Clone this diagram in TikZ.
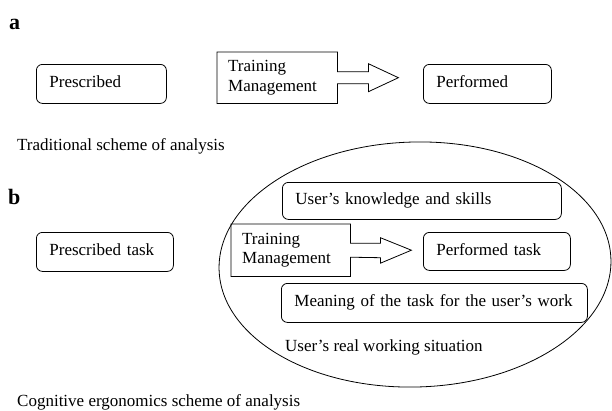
\documentclass[tikz,border=0pt]{standalone}
\usepackage{fontspec}
\setmainfont{Liberation Serif}
\usetikzlibrary{shapes.geometric}
\begin{document}
\begin{tikzpicture}[x=1pt,y=-1pt,
  every node/.style={font=\fontsize{17}{20}\selectfont},
  panel/.style={font=\fontsize{22}{24}\selectfont\bfseries, anchor=base west, inner sep=0pt},
  caption/.style={anchor=base west, inner sep=0pt},
  rbox/.style={draw, line width=0.8pt, rounded corners=6pt, anchor=north west,
    inner xsep=13pt, inner ysep=0pt, align=left, text height=12pt, text depth=4pt},
  tmbox/.style={anchor=north west, inner xsep=11pt, inner ysep=0pt, align=left},
  outline/.style={draw, line width=0.8pt, line join=miter}]
\useasboundingbox (0,0) rectangle (612,410);

% panel a: traditional scheme
\node[panel] (la) at (9,29) {a};
\node[rbox, text width=104pt, minimum height=39pt] (pa) at (36,64) {Prescribed};
\node[tmbox, text width=98pt, minimum height=51pt] (tma) at (217,52) {Training\\Management};
\node[rbox, text width=102pt, minimum height=39pt] (fa) at (423,64) {Performed};
\draw[outline] ([yshift=6pt]tma.east) -- ++(31,0) -- ++(0,-8)
  -- ([xshift=61pt]tma.east) -- ++(-30,14) -- ++(0,-8)
  -- ([yshift=-6pt]tma.east) -- (tma.south east) -- (tma.south west)
  -- (tma.north west) -- (tma.north east) -- cycle;
\node[caption] (ca) at (17,150) {Traditional scheme of analysis};

% panel b: cognitive ergonomics scheme
\node[panel] (lb) at (8,204) {b};
\node[draw, ellipse, line width=0.8pt, minimum width=392pt, minimum height=245pt,
  inner sep=0pt, rotate=1.5] (situation) at (415,264.5) {};
\node[rbox, text width=111pt, minimum height=39pt] (pb) at (36,232) {Prescribed task};
\node[rbox, text width=253pt, minimum height=37pt] (know) at (282,182) {User’s knowledge and skills};
\node[tmbox, text width=97pt, minimum height=52pt] (tmb) at (231,224) {Training\\Management};
\node[rbox, text width=121pt, minimum height=38pt] (fb) at (423,232) {Performed task};
\node[rbox, text width=280pt, minimum height=39pt] (mean) at (281,283) {Meaning of the task for the user’s work};
\draw[outline] ([yshift=7pt]tmb.east) -- ++(30,0) -- ++(0,-5.5)
  -- ([xshift=61pt]tmb.east) -- ++(-31,13) -- ++(0,-5.5)
  -- ([yshift=-7pt]tmb.east) -- (tmb.south east) -- (tmb.south west)
  -- (tmb.north west) -- (tmb.north east) -- cycle;
\node[caption] (real) at (285,351) {User’s real working situation};
\node[caption] (cb) at (17,406) {Cognitive ergonomics scheme of analysis};
\end{tikzpicture}
\end{document}
